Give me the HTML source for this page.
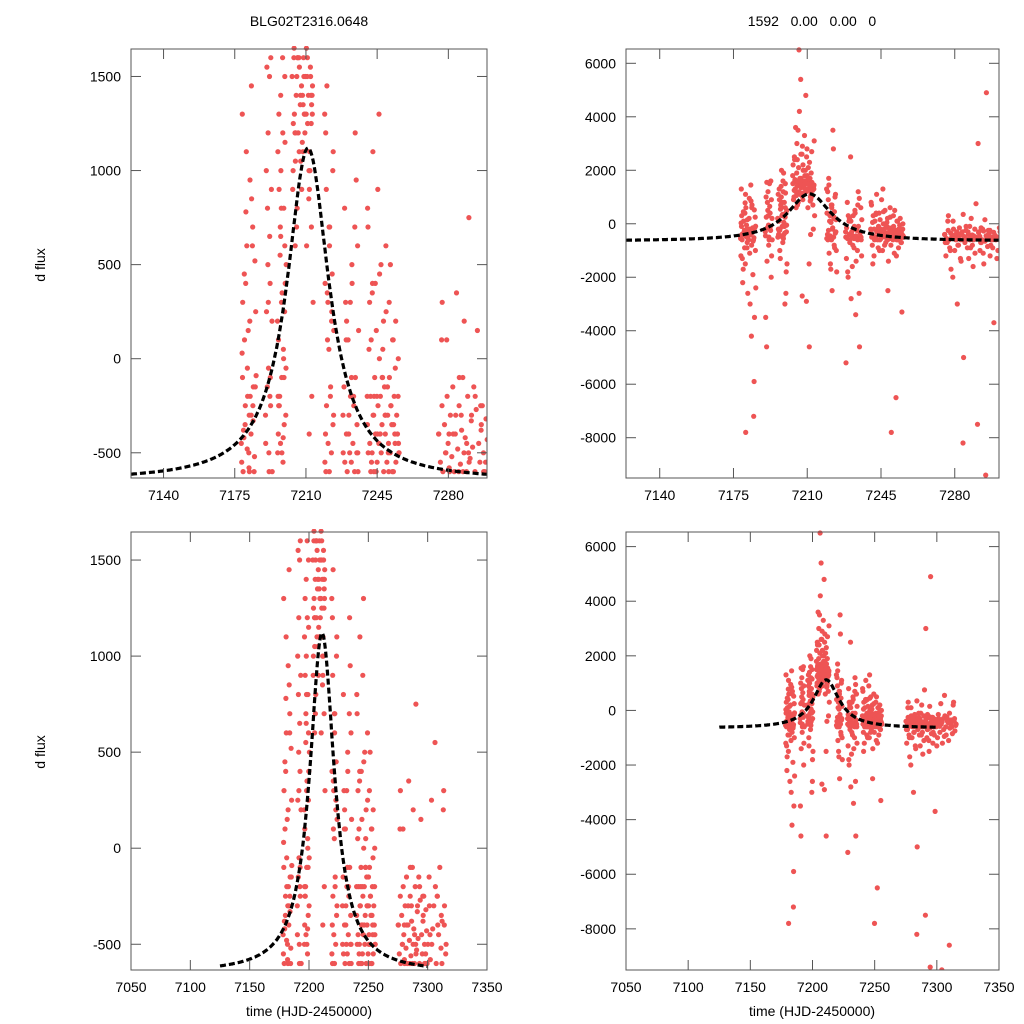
<!DOCTYPE html>
<html><head><meta charset="utf-8"><style>
html,body{margin:0;background:#fff;overflow:hidden;width:1024px;height:1024px;}
svg{display:block;font-family:"Liberation Sans",sans-serif;}
</style></head><body>
<svg id="fig" width="1024" height="1024" viewBox="0 0 1024 1024">
<rect width="1024" height="1024" fill="#fff"/>
<text x="309" y="26" font-size="14" text-anchor="middle">BLG02T2316.0648</text>
<text x="812" y="26" font-size="14" text-anchor="middle" xml:space="preserve">1592   0.00   0.00   0</text>
<text x="45" y="265" font-size="14" text-anchor="middle" transform="rotate(-90 45 265)">d flux</text>
<text x="45" y="752" font-size="14" text-anchor="middle" transform="rotate(-90 45 752)">d flux</text>
<text x="309" y="1016" font-size="14" text-anchor="middle">time (HJD-2450000)</text>
<text x="812" y="1016" font-size="14" text-anchor="middle">time (HJD-2450000)</text>
</svg>
<script>
const times=[
7178.2,7178.5,7178.9,7179.1,7179.4,7179.8,7180.1,7180.3,7180.6,7180.9,7181.2,7181.5,7181.8,7182.1,7182.4,7182.7,7183.0,7183.3,7183.6,7183.9,7184.2,7184.5,7184.8,7185.1,7185.4,7178.7,7179.6,7180.8,7181.9,7182.9,7183.8,7184.6,7185.6,7179.2,7180.4,7181.4,7182.6,7183.5,7184.3,7185.0,
7190.1,7190.5,7190.9,7191.3,7191.7,7192.1,7192.5,7192.9,7193.3,7190.3,7191.1,7191.9,7192.7,7193.1,7190.7,7191.5,7192.3,
7196.0,7196.4,7196.8,7197.2,7197.6,7198.0,7198.4,7198.8,7199.2,7199.6,7200.0,7196.2,7196.6,7197.0,7197.4,7197.8,7198.2,7198.6,7199.0,7199.4,7199.8,7200.4,7196.9,7197.9,7198.9,7199.9,
7203.1,7203.5,7203.9,7204.3,7204.7,7205.1,7205.5,7205.9,7206.3,7206.7,7207.1,7207.5,7207.9,7208.3,7208.7,7209.1,7209.5,7209.9,7210.3,7210.7,7211.1,7211.5,7211.9,7212.3,7212.7,7213.1,7213.5,
7203.3,7203.7,7204.1,7204.5,7204.9,7205.3,7205.7,7206.1,7206.5,7206.9,7207.3,7207.7,7208.1,7208.5,7208.9,7209.3,7209.7,7210.1,7210.5,7210.9,7211.3,7211.7,7212.1,7212.5,7212.9,7213.3,
7204.0,7205.0,7206.0,7207.0,7208.0,7209.0,7210.0,7211.0,7212.0,7213.0,7205.6,7207.6,7209.6,7211.6,
7219.2,7219.6,7220.0,7220.4,7220.8,7221.2,7221.6,7222.0,7222.4,7222.8,7223.2,7223.6,7224.0,7219.4,7219.8,7220.2,7220.6,7221.0,7221.4,7221.8,7222.2,7222.6,7223.0,7223.4,7223.8,
7228.2,7228.6,7229.0,7229.4,7229.8,7230.2,7230.6,7231.0,7231.4,7231.8,7232.2,7232.6,7233.0,7233.4,7233.8,7234.2,7234.6,7235.0,7235.4,7235.8,7228.4,7229.2,7230.0,7230.8,7231.6,7232.4,7233.2,7234.0,7234.8,7235.6,
7240.1,7240.5,7240.9,7241.3,7241.7,7242.1,7242.5,7242.9,7243.3,7243.7,7244.1,7244.5,7244.9,7245.3,7245.7,7246.1,7246.5,7246.9,7247.3,7247.7,7248.1,7248.5,7248.9,7249.3,7249.7,7250.1,7250.5,7250.9,7251.3,7251.7,7252.1,7252.5,7252.9,7253.3,7253.7,7254.1,7254.5,7254.9,7255.3,7255.7,
7240.3,7241.1,7241.9,7242.7,7243.5,7244.3,7245.1,7245.9,7246.7,7247.5,7248.3,7249.1,7249.9,7250.7,7251.5,7252.3,7253.1,7253.9,7254.7,7255.5,
7275.2,7275.8,7276.4,7277.0,7277.6,7278.2,7278.8,7279.4,7280.0,7280.6,7281.2,7281.8,7282.4,7283.0,7283.6,7284.2,7284.8,7285.4,7286.0,7286.6,7287.2,7287.8,7288.4,7289.0,7289.6,7290.2,7290.8,7291.4,7292.0,7292.6,7293.2,7293.8,7294.4,7295.0,7295.6,7296.2,7296.8,7297.4,7298.0,7298.6,
7275.5,7276.7,7277.9,7279.1,7280.3,7281.5,7282.7,7283.9,7285.1,7286.3,7287.5,7288.7,7289.9,7291.1,7292.3,7293.5,7294.7,7295.9,7297.1,7298.3,
7299.5,7300.5,7301.5,7302.5,7303.5,7304.5,7305.5,7306.5,7307.5,7308.5,7309.5,7310.5,7311.5,7312.5,7313.5,7314.5,7315.5,7300.0,7302.0,7304.0,7306.0,7308.0,7310.0,7312.0,7314.0
];
const flux=[
-450,-1200,300,-600,-2200,100,-350,-900,-1500,600,-50,-700,-2600,-300,200,-1100,-400,850,-800,-250,-1900,-600,-5900,-150,-1000,1300,-1700,-7800,-500,-3000,700,-7200,-2400,-1300,400,-900,-200,-4200,-650,-3500,
-300,1000,-1400,500,-800,1500,-100,-2000,200,-3500,800,-600,1600,-1200,-4600,300,-200,
200,-400,900,-1300,1400,300,-700,1900,-100,600,-1800,1100,-250,-1000,700,2000,-500,1200,0,-3000,400,-1500,-250,800,50,-2600,
1800,900,2500,1300,600,3000,1500,2100,4200,1100,1700,2600,900,1400,3300,2000,1200,2800,600,1600,2300,1000,1900,1500,700,1300,300,
2200,1000,1600,3600,1200,2400,800,6500,1700,5400,1400,2900,2000,1100,1800,4800,2500,1300,2100,-1500,1700,900,2700,1400,-200,3100,
2400,1900,1600,2600,2200,1500,1800,-4600,1000,1400,3500,-2700,-2900,-400,
1300,-400,900,-1100,300,-1700,600,-200,2800,-800,1000,-300,-1800,400,-600,1700,100,-1500,700,-2500,3500,200,-900,1100,-1000,
-300,-1300,800,-2000,100,-700,2500,-400,-1600,300,-900,500,-3400,-200,-1000,1200,-2600,-500,600,-1200,-5200,-1800,200,-2800,-800,-100,-1400,700,-4600,-600,
-200,700,-800,300,-1200,100,-500,1100,-300,-900,400,-600,-200,900,-1000,0,-400,500,-700,-100,200,-1400,-300,600,-800,-150,-500,300,-1100,-250,-6500,-600,100,-900,-400,200,-700,-3300,-200,-500,
800,-1500,-600,400,-200,-1000,-400,1300,-800,-100,-2500,-300,-7800,-600,500,-1200,-350,-50,-700,-450,
-400,-1200,-700,300,-900,-1700,-500,-200,-1000,-600,-3000,-800,-400,-1400,-300,-5000,-700,-100,-900,-1300,-600,200,-800,-450,-1100,-550,-7500,-300,-1000,-700,-200,-1500,-650,4900,-850,-350,-1200,-600,-900,-3700,
-700,100,-1000,-2000,-400,-800,-1300,-8200,-600,-300,-900,-1600,-500,3000,-700,-1100,-9400,-250,-800,-550,
-600,-1000,-300,-800,-500,-1200,-700,-200,-900,-400,-1100,-650,-350,-850,300,-750,-500,-1300,-450,-9500,-950,-250,-8600,-600,-400
];
const times2=[
7178.4,7178.8,7179.3,7179.7,7180.2,7180.7,7181.1,7181.6,7182.0,7182.5,7183.1,7183.7,7184.1,7184.7,7185.3,7178.6,7179.5,7180.5,7181.3,7182.2,7183.2,7184.0,7184.9,7185.5,
7190.2,7190.6,7191.0,7191.4,7191.8,7192.2,7192.6,7193.0,7193.4,7190.8,7191.6,7192.4,
7196.1,7196.5,7196.7,7197.1,7197.3,7197.5,7197.7,7198.1,7198.3,7198.5,7198.7,7199.1,7199.3,7199.5,7199.7,7200.1,7200.3,7196.3,7197.6,7198.8,7199.6,7200.2,
7203.2,7203.8,7204.2,7204.8,7205.2,7205.8,7206.2,7206.8,7207.2,7207.8,7208.2,7208.8,7209.2,7209.8,7210.2,7210.8,7211.2,7211.8,7212.2,7212.8,7213.2,7204.6,7206.6,7208.6,7210.6,7212.6,7205.4,7207.4,7209.4,7211.4,
7219.3,7219.7,7220.1,7220.5,7220.9,7221.3,7221.7,7222.1,7222.5,7222.9,7223.3,7223.7,7220.3,7221.5,7222.7,
7228.3,7228.7,7229.1,7229.5,7229.9,7230.3,7230.7,7231.1,7231.5,7231.9,7232.3,7232.7,7233.1,7233.5,7233.9,7234.3,7234.7,7235.1,7235.5,7235.9,
7240.2,7240.6,7241.0,7241.4,7241.8,7242.2,7242.6,7243.0,7243.4,7243.8,7244.2,7244.6,7245.0,7245.4,7245.8,7246.2,7246.6,7247.0,7247.4,7247.8,7248.2,7248.6,7249.0,7249.4,7249.8,7250.2,7250.6,7251.0,7251.4,7251.8,7252.2,7252.6,7253.0,7253.4,7253.8,7254.2,7254.6,7255.0,7255.4,7255.8,
7275.3,7276.1,7276.9,7277.3,7278.1,7278.6,7279.2,7279.9,7280.4,7281.0,7281.7,7282.2,7282.9,7283.4,7284.0,7284.6,7285.3,7285.9,7286.5,7287.1,7287.7,7288.3,7288.9,7289.5,7290.1,7290.7,7291.3,7291.9,7292.5,7293.1,7293.7,7294.3,7294.9,7295.5,7296.1,7296.7,7297.3,7297.9,7298.5,7299.1,
7300.2,7301.2,7302.2,7303.2,7304.2,7305.2,7306.2,7307.2,7308.2,7309.2,7310.2,7311.2,7312.2,7313.2,7314.2,7315.2
];
const flux2=[
-550,-100,-380,450,-250,1100,-480,150,-580,950,-300,600,-150,-520,250,30,-420,780,-200,-600,1450,-330,520,-90,
-450,250,-150,1200,-500,650,-250,900,-600,1550,-50,400,
-500,100,1300,-200,550,-450,1000,-100,350,1600,-550,800,-350,250,1150,-300,500,-200,650,-420,1500,-50,
1500,1250,1650,1050,1400,1600,1200,1550,1350,1450,1150,1600,1300,1500,1650,1250,1400,1100,1550,1350,1450,1200,1600,1350,1500,1250,700,1050,1300,850,
-550,1200,-250,350,-450,50,700,-150,-500,450,-350,150,1450,-600,250,
-500,-150,-550,300,-400,-600,100,-300,-500,-200,-550,400,-450,-250,-600,-100,950,-350,-500,150,
-350,-500,50,-450,-200,-550,350,-300,-600,-100,-400,150,-550,-250,-450,450,-200,-500,-350,50,-600,-150,-400,250,-550,-300,-450,-100,-500,-250,-350,100,-600,-200,-450,-550,-300,-400,0,-500,
-400,-550,-250,-600,-350,-500,100,-450,-580,-300,-520,-150,-600,-400,350,-480,-250,-560,-380,-100,-500,-420,-600,-200,750,-530,-330,-470,-150,-600,-270,150,-450,-550,-380,-250,-500,-600,-320,-430,
-500,-150,-580,250,-420,-300,550,-600,-250,-450,-100,-520,-380,200,-300,-550
];
const allT=times.concat(times2);
const allF=flux.concat(flux2);
// model: baseline, peak amplitude, t0, tE
const modelParams=[-650,1770,7211,12.6];

const NS='http://www.w3.org/2000/svg';
const fig=document.getElementById('fig');
function mk(tag,attrs,parent){const e=document.createElementNS(NS,tag);for(const k in attrs)e.setAttribute(k,attrs[k]);(parent||fig).appendChild(e);return e;}
function model(t){const d=(t-modelParams[2])/modelParams[3];return modelParams[0]+modelParams[1]/(1+d*d);}

const panels=[
 {name:'top-left',x0:131,x1:487,y0:49,y1:478,tmin:7124,tmax:7299,fmin:-634,fmax:1646,xt:[7140,7175,7210,7245,7280],yt:[-500,0,500,1000,1500],c0:7124,c1:7299},
 {name:'top-right',x0:626,x1:999,y0:49,y1:478,tmin:7124,tmax:7301,fmin:-9507,fmax:6535,xt:[7140,7175,7210,7245,7280],yt:[-8000,-6000,-4000,-2000,0,2000,4000,6000],c0:7124,c1:7301},
 {name:'bottom-left',x0:131,x1:487,y0:532,y1:970,tmin:7050,tmax:7350,fmin:-634,fmax:1646,xt:[7050,7100,7150,7200,7250,7300,7350],yt:[-500,0,500,1000,1500],c0:7125,c1:7300},
 {name:'bottom-right',x0:626,x1:999,y0:532,y1:970,tmin:7050,tmax:7350,fmin:-9507,fmax:6535,xt:[7050,7100,7150,7200,7250,7300,7350],yt:[-8000,-6000,-4000,-2000,0,2000,4000,6000],c0:7125,c1:7300}
];
panels.forEach((p,pi)=>{
 const sx=t=>p.x0+(t-p.tmin)/(p.tmax-p.tmin)*(p.x1-p.x0);
 const sy=f=>p.y1-(f-p.fmin)/(p.fmax-p.fmin)*(p.y1-p.y0);
 const g=mk('g',{});
 
 
 const cid='clip'+pi;
 const cp=mk('clipPath',{id:cid},g);
 mk('rect',{x:p.x0,y:p.y0-3,width:p.x1-p.x0,height:p.y1-p.y0+3},cp);
 const pts=mk('g',{'clip-path':'url(#'+cid+')',fill:'#ee5454'},g);
 
 
 for(let i=0;i<allT.length;i++){
  const c=mk('circle',{cx:sx(allT[i]).toFixed(1),cy:sy(allF[i]).toFixed(1),r:2.6},pts);
  
  
 }
 let d='';
 for(let t=p.c0;t<=p.c1+0.01;t+=0.5){d+=(d?'L':'M')+sx(t).toFixed(1)+' '+sy(model(t)).toFixed(1);}
 const cur=mk('path',{d:d,fill:'none',stroke:'#000','stroke-width':3.2,'stroke-dasharray':'6 3','clip-path':'url(#'+cid+')'},g);
 
 
 const fr=mk('rect',{x:p.x0,y:p.y0,width:p.x1-p.x0,height:p.y1-p.y0,fill:'none',stroke:'#555','stroke-width':1},g);
 
 
 p.xt.forEach(v=>{
  const x=sx(v);
  mk('line',{x1:x,x2:x,y1:p.y1,y2:p.y1-10,stroke:'#555'},g);
  mk('line',{x1:x,x2:x,y1:p.y0,y2:p.y0+10,stroke:'#555'},g);
  const tx=mk('text',{x:x,y:p.y1+22,'font-size':14,'text-anchor':'middle'},g);
  tx.textContent=v;
  
  
 });
 p.yt.forEach(v=>{
  const y=sy(v);
  mk('line',{x1:p.x0,x2:p.x0+10,y1:y,y2:y,stroke:'#555'},g);
  mk('line',{x1:p.x1,x2:p.x1-10,y1:y,y2:y,stroke:'#555'},g);
  const tx=mk('text',{x:p.x0-10,y:y+5,'font-size':14,'text-anchor':'end'},g);
  tx.textContent=v;
  
  
 });
});
</script>
</body></html>
